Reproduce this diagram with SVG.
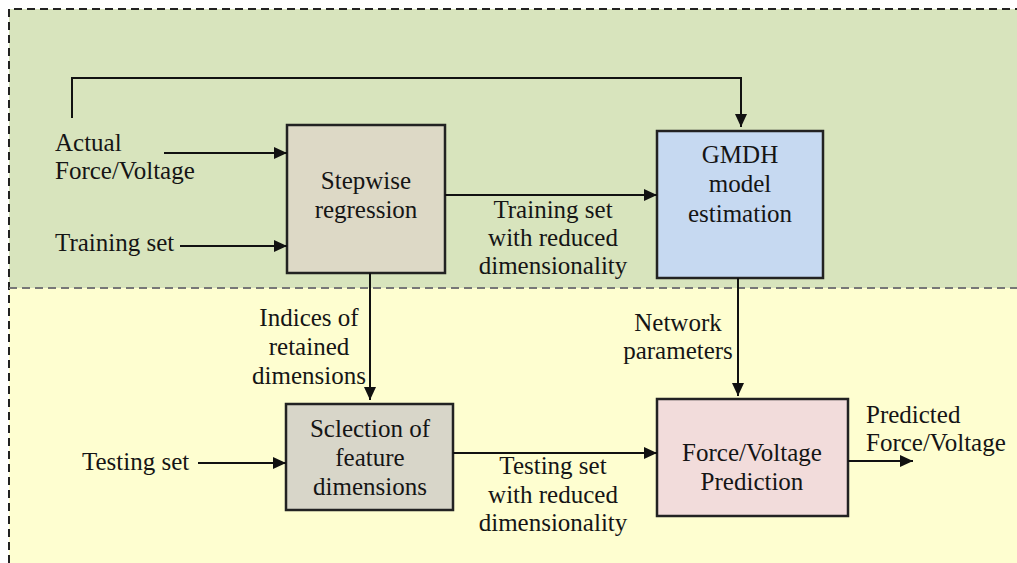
<svg xmlns="http://www.w3.org/2000/svg" width="1017" height="563" viewBox="0 0 1017 563">
<defs>
<marker id="ah" viewBox="0 0 13 12" refX="13" refY="6" markerWidth="13" markerHeight="12" markerUnits="userSpaceOnUse" orient="auto">
<path d="M0,0 L13,6 L0,12 z" fill="#111"/>
</marker>
<style>
text{font-family:"Liberation Serif","Times New Roman",serif;font-size:25px;fill:#151515}
.c{text-anchor:middle}
.box{stroke:#222;stroke-width:2.5}
.conn{fill:none;stroke:#111;stroke-width:2}
</style>
</defs>
<rect x="0" y="0" width="1017" height="563" fill="#ffffff"/>
<rect x="9" y="9" width="1020" height="279" fill="#d8e4bd"/>
<rect x="9" y="288" width="1020" height="290" fill="#fefed0"/>
<path d="M9,563 L9,9 L1017,9" fill="none" stroke="#222" stroke-width="2" stroke-dasharray="8,5"/>
<line x1="9" y1="288" x2="1017" y2="288" stroke="#777" stroke-width="2" stroke-dasharray="8,5"/>

<g id="stepwise">
<rect class="box" x="287" y="125" width="158" height="148" fill="#ddd9c6"/>
<text class="c" x="366" y="189">Stepwise</text>
<text class="c" x="366" y="218">regression</text>
</g>
<g id="gmdh">
<rect class="box" x="657" y="131" width="166" height="147" fill="#c6d9f1"/>
<text class="c" x="740" y="163">GMDH</text>
<text class="c" x="740" y="192">model</text>
<text class="c" x="740" y="222">estimation</text>
</g>
<g id="selection">
<rect class="box" x="286" y="404" width="167" height="106" fill="#d8d6c9"/>
<text class="c" x="370" y="437">Sclection of</text>
<text class="c" x="370" y="466">feature</text>
<text class="c" x="370" y="495">dimensions</text>
</g>
<g id="prediction">
<rect class="box" x="657" y="399" width="191" height="117" fill="#f2dcdb"/>
<text class="c" x="752" y="461">Force/Voltage</text>
<text class="c" x="752" y="490">Prediction</text>
</g>
<g id="labels">
<text x="55" y="151">Actual</text>
<text x="55" y="179">Force/Voltage</text>
<text x="55" y="251">Training set</text>
<text x="82" y="470">Testing set</text>
<text class="c" x="553" y="218">Training set</text>
<text class="c" x="553" y="246">with reduced</text>
<text class="c" x="553" y="274">dimensionality</text>
<text class="c" x="309" y="326">Indices of</text>
<text class="c" x="309" y="355">retained</text>
<text class="c" x="309" y="384">dimensions</text>
<text class="c" x="678" y="331">Network</text>
<text class="c" x="678" y="359">parameters</text>
<text class="c" x="553" y="474">Testing set</text>
<text class="c" x="553" y="503">with reduced</text>
<text class="c" x="553" y="531">dimensionality</text>
<text x="866" y="423">Predicted</text>
<text x="866" y="451">Force/Voltage</text>
</g>
<g id="connectors">
<path class="conn" d="M72,118 L72,78 L741,78 L741,127" marker-end="url(#ah)"/>
<line class="conn" x1="164" y1="153" x2="287" y2="153" marker-end="url(#ah)"/>
<line class="conn" x1="180" y1="246" x2="287" y2="246" marker-end="url(#ah)"/>
<line class="conn" x1="445" y1="195" x2="657" y2="195" marker-end="url(#ah)"/>
<line class="conn" x1="370" y1="273" x2="370" y2="400" marker-end="url(#ah)"/>
<line class="conn" x1="738" y1="278" x2="738" y2="396" marker-end="url(#ah)"/>
<line class="conn" x1="198" y1="463" x2="286" y2="463" marker-end="url(#ah)"/>
<line class="conn" x1="453" y1="453" x2="657" y2="453" marker-end="url(#ah)"/>
<line class="conn" x1="848" y1="461" x2="913" y2="461" marker-end="url(#ah)"/>
</g>
</svg>
